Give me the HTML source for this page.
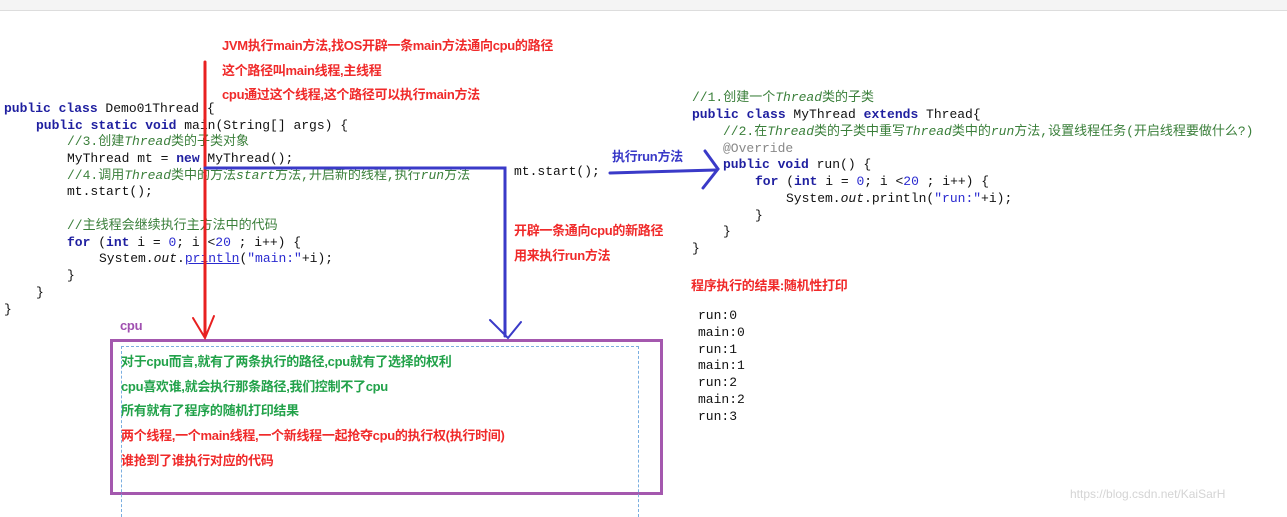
<!DOCTYPE html>
<html><head><meta charset="utf-8"><style>
body{margin:0;width:1287px;height:511px;background:#fff;position:relative;overflow:hidden;font-family:"Liberation Sans","Noto Sans CJK SC",sans-serif}
.c{position:absolute;font-family:"Liberation Mono","Noto Sans CJK SC",monospace;font-size:13px;color:#111;white-space:pre;line-height:16px}
.k{color:#1f1fa0;font-weight:bold}
.cm{color:#3a7f3a}
.n{color:#2a2ad0}
.s{color:#2a2ad0}
.t{position:absolute;font-size:13px;font-weight:bold;white-space:pre;line-height:15px;letter-spacing:-0.3px}
.r{color:#f02a2a}.g{color:#22a24a}.b{color:#3a3ac8}
</style></head><body>
<div style="position:absolute;left:0;top:0;width:1287px;height:10px;background:#f4f4f4;border-bottom:1px solid #ddd"></div>

<div class="t r" style="left:222px;top:38px">JVM执行main方法,找OS开辟一条main方法通向cpu的路径</div>
<div class="t r" style="left:222px;top:63px">这个路径叫main线程,主线程</div>
<div class="t r" style="left:222px;top:87px">cpu通过这个线程,这个路径可以执行main方法</div>

<div class="c" style="left:4px;top:101px"><span class="k">public class</span> Demo01Thread {</div>
<div class="c" style="left:36px;top:118px"><span class="k">public static void</span> main(String[] args) {</div>
<div class="c cm" style="left:67px;top:134px">//3.创建<i>Thread</i>类的子类对象</div>
<div class="c" style="left:67px;top:151px">MyThread mt = <span class="k">new</span> MyThread();</div>
<div class="c cm" style="left:67px;top:168px">//4.调用<i>Thread</i>类中的方法<i>start</i>方法,开启新的线程,执行<i>run</i>方法</div>
<div class="c" style="left:67px;top:184px">mt.start();</div>
<div class="c cm" style="left:67px;top:218px">//主线程会继续执行主方法中的代码</div>
<div class="c" style="left:67px;top:235px"><span class="k">for</span> (<span class="k">int</span> i = <span class="n">0</span>; i &lt;<span class="n">20</span> ; i++) {</div>
<div class="c" style="left:99px;top:251px">System.<i>out</i>.<u style="color:#2a2ad0">println</u>(<span class="s">"main:"</span>+i);</div>
<div class="c" style="left:67px;top:268px">}</div>
<div class="c" style="left:36px;top:285px">}</div>
<div class="c" style="left:4px;top:302px">}</div>

<div class="c" style="left:514px;top:164px">mt.start();</div>
<div class="t b" style="left:612px;top:149px">执行run方法</div>
<div class="t r" style="left:514px;top:223px">开辟一条通向cpu的新路径</div>
<div class="t r" style="left:514px;top:248px">用来执行run方法</div>

<div class="c cm" style="left:692px;top:90px">//1.创建一个<i>Thread</i>类的子类</div>
<div class="c" style="left:692px;top:107px"><span class="k">public class</span> MyThread <span class="k">extends</span> Thread{</div>
<div class="c cm" style="left:723px;top:124px">//2.在<i>Thread</i>类的子类中重写<i>Thread</i>类中的<i>run</i>方法,设置线程任务(开启线程要做什么?)</div>
<div class="c" style="left:723px;top:141px;color:#888">@Override</div>
<div class="c" style="left:723px;top:157px"><span class="k">public void</span> run() {</div>
<div class="c" style="left:755px;top:174px"><span class="k">for</span> (<span class="k">int</span> i = <span class="n">0</span>; i &lt;<span class="n">20</span> ; i++) {</div>
<div class="c" style="left:786px;top:191px">System.<i>out</i>.println(<span class="s">"run:"</span>+i);</div>
<div class="c" style="left:755px;top:208px">}</div>
<div class="c" style="left:723px;top:224px">}</div>
<div class="c" style="left:692px;top:241px">}</div>
<div class="t r" style="left:691px;top:278px">程序执行的结果:随机性打印</div>

<div class="c" style="left:698px;top:308px;line-height:16.8px">run:0
main:0
run:1
main:1
run:2
main:2
run:3</div>

<div class="t" style="left:120px;top:318px;color:#a050b0">cpu</div>
<div style="position:absolute;left:110px;top:339px;width:547px;height:150px;border:3px solid #a458ae"></div>
<div style="position:absolute;left:121px;top:346px;width:516px;height:170px;border:1px dashed #7aaee0;border-bottom:none"></div>
<div class="t g" style="left:121px;top:354px">对于cpu而言,就有了两条执行的路径,cpu就有了选择的权利</div>
<div class="t g" style="left:121px;top:379px">cpu喜欢谁,就会执行那条路径,我们控制不了cpu</div>
<div class="t g" style="left:121px;top:403px">所有就有了程序的随机打印结果</div>
<div class="t r" style="left:121px;top:428px">两个线程,一个main线程,一个新线程一起抢夺cpu的执行权(执行时间)</div>
<div class="t r" style="left:121px;top:453px">谁抢到了谁执行对应的代码</div>

<svg width="1287" height="511" style="position:absolute;left:0;top:0">
<g fill="none" stroke-linecap="round">
<path d="M205 62 V336" stroke="#e82020" stroke-width="3"/>
<path d="M193 318 L205 338 L214 316" stroke="#e82020" stroke-width="2"/>
<path d="M205 168 H505 V336" stroke="#3a3ac8" stroke-width="3"/>
<path d="M490 320 L508 338 L521 322" stroke="#3a3ac8" stroke-width="2"/>
<path d="M610 173 L716 170" stroke="#3a3ac8" stroke-width="3"/>
<path d="M705 151 L718 169 L703 188" stroke="#3a3ac8" stroke-width="3"/>
</g>
</svg>
<div style="position:absolute;left:1070px;top:487px;font-size:12px;color:#d4d4d4">https://blog.csdn.net/KaiSarH</div>
</body></html>
